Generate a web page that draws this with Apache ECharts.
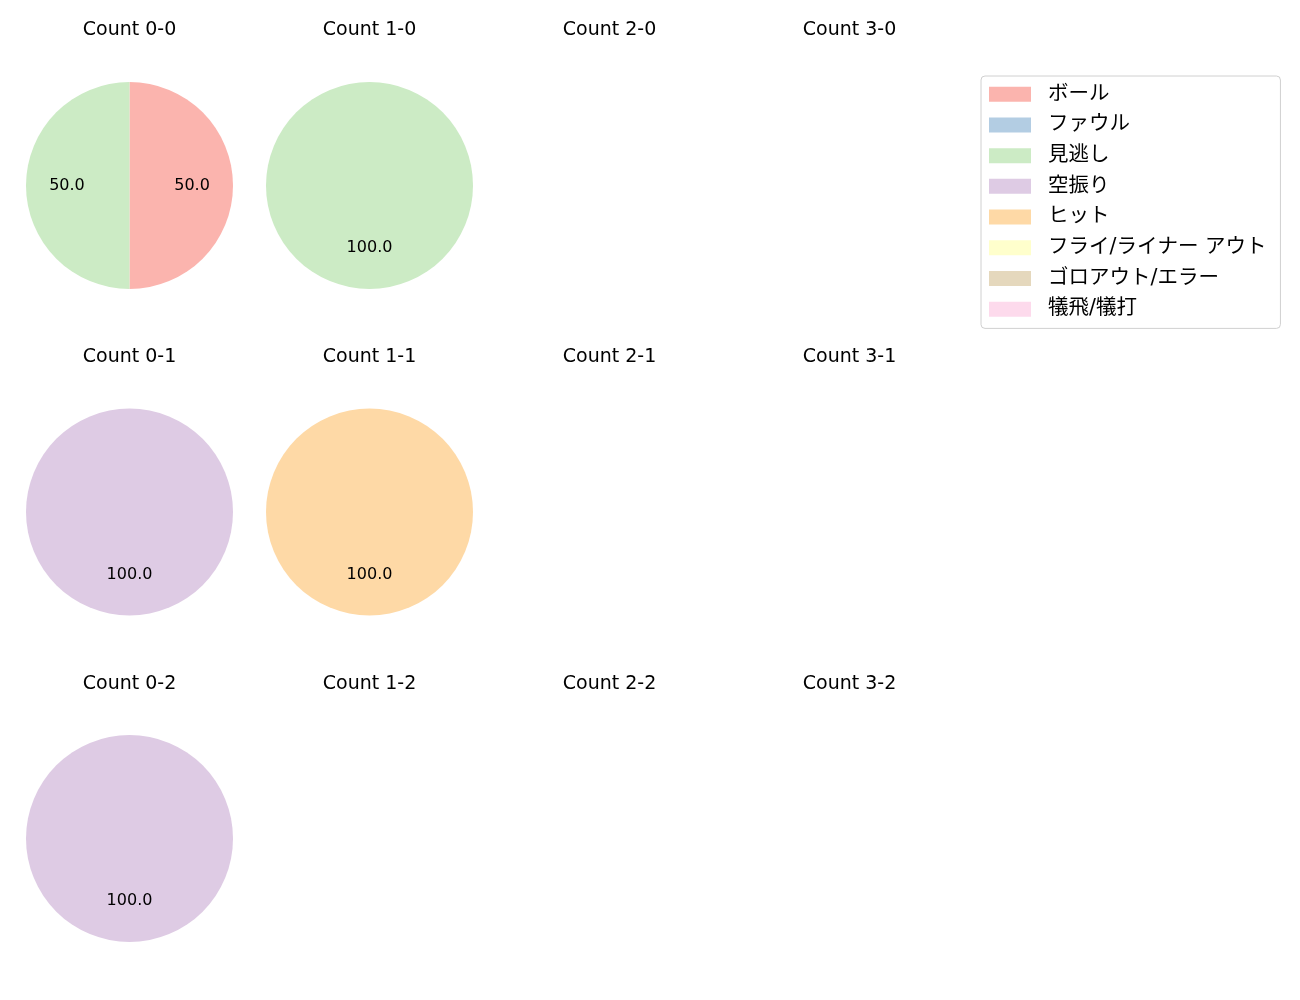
<!DOCTYPE html>
<html>
<head>
<meta charset="UTF-8">
<title>Count pies</title>
<script src="https://cdn.jsdelivr.net/npm/echarts@6/dist/echarts.min.js"></script>
<style>
	html, body { margin: 0; padding: 0; background: #fff; }
	#main { width: 1300px; height: 1000px; }
</style>
</head>
<body>
<div id="main"></div>
<script>
	// 結果の種類（凡例の順）
	var categories = ['ボール', 'ファウル', '見逃し', '空振り', 'ヒット', 'フライ/ライナー アウト', 'ゴロアウト/エラー', '犠飛/犠打']
	var colors = ['#fbb4ae', '#b3cde3', '#ccebc5', '#decbe4', '#fed9a6', '#ffffcc', '#e5d8bd', '#fddaec']

	// カウント（ボール-ストライク）
	var balls = [0, 1, 2, 3]
	var strikes = [0, 1, 2]

	// 各カウントの割合（%）、categories と同じ順
	var count00 = [50, 0, 50, 0, 0, 0, 0, 0]
	var count10 = [0, 0, 100, 0, 0, 0, 0, 0]
	var count01 = [0, 0, 0, 100, 0, 0, 0, 0]
	var count11 = [0, 0, 0, 0, 100, 0, 0, 0]
	var count02 = [0, 0, 0, 100, 0, 0, 0, 0]
	var counts = {
		'0-0': count00, '1-0': count10,
		'0-1': count01, '1-1': count11,
		'0-2': count02
	}

	var font = '"DejaVu Sans", "Noto Sans CJK JP", sans-serif'
	var colX = [129.5, 369.5, 609.5, 849.5]
	var rowY = [185.5, 512, 838.5]
	var titleTop = [20.5, 347.5, 674.5]
	var R = 103.5

	var titles = []
	var series = []
	strikes.forEach(function(s, r) {
		balls.forEach(function(b, c) {
			var key = b + '-' + s
			titles.push({
				text: 'Count ' + key,
				left: colX[c],
				top: titleTop[r],
				textAlign: 'center',
				padding: 0,
				textStyle: { fontFamily: font, fontSize: 19, fontWeight: 'normal', color: '#000' }
			})
			var vals = counts[key]
			if (!vals) return
			var data = categories.map(function(name, i) {
				return { name: name, value: vals[i], itemStyle: { color: colors[i] } }
			})
			// 扇形
			series.push({
				type: 'pie',
				center: [colX[c], rowY[r]],
				radius: [0, R],
				startAngle: 90,
				clockwise: true,
				animation: false,
				silent: true,
				label: { show: false },
				labelLine: { show: false },
				itemStyle: { borderWidth: 0 },
				emphasis: { disabled: true },
				data: data
			})
			// ラベル用（半径の0.6の位置）
			series.push({
				type: 'pie',
				center: [colX[c], rowY[r]],
				radius: [R * 0.15, R],
				startAngle: 90,
				clockwise: true,
				animation: false,
				silent: true,
				itemStyle: { color: 'rgba(0,0,0,0)', borderWidth: 0 },
				labelLine: { show: false },
				emphasis: { disabled: true },
				label: {
					show: true,
					position: 'inside',
					fontFamily: font,
					fontSize: 16,
					color: '#000',
					formatter: function(p) { return p.value > 0 ? p.value.toFixed(1) : '' }
				},
				data: data.map(function(d) { return { name: d.name, value: d.value, itemStyle: { color: 'rgba(0,0,0,0)' } } })
			})
		})
	})

	var chart = echarts.init(document.getElementById('main'))
	chart.setOption({
		backgroundColor: '#fff',
		animation: false,
		title: titles,
		legend: {
			orient: 'vertical',
			left: 981,
			top: 76,
			padding: [8, 14, 9, 8],
			borderColor: '#d0d0d0',
			borderWidth: 1,
			borderRadius: 4,
			icon: 'rect',
			itemWidth: 42,
			itemHeight: 15,
			itemGap: 10.2,
			selectedMode: false,
			textStyle: { fontFamily: font, fontSize: 20.5, color: '#000', padding: [0, 0, 0, 12] },
			data: categories.map(function(name, i) {
				return { name: name, itemStyle: { color: colors[i] } }
			})
		},
		series: series
	})
</script>
</body>
</html>
